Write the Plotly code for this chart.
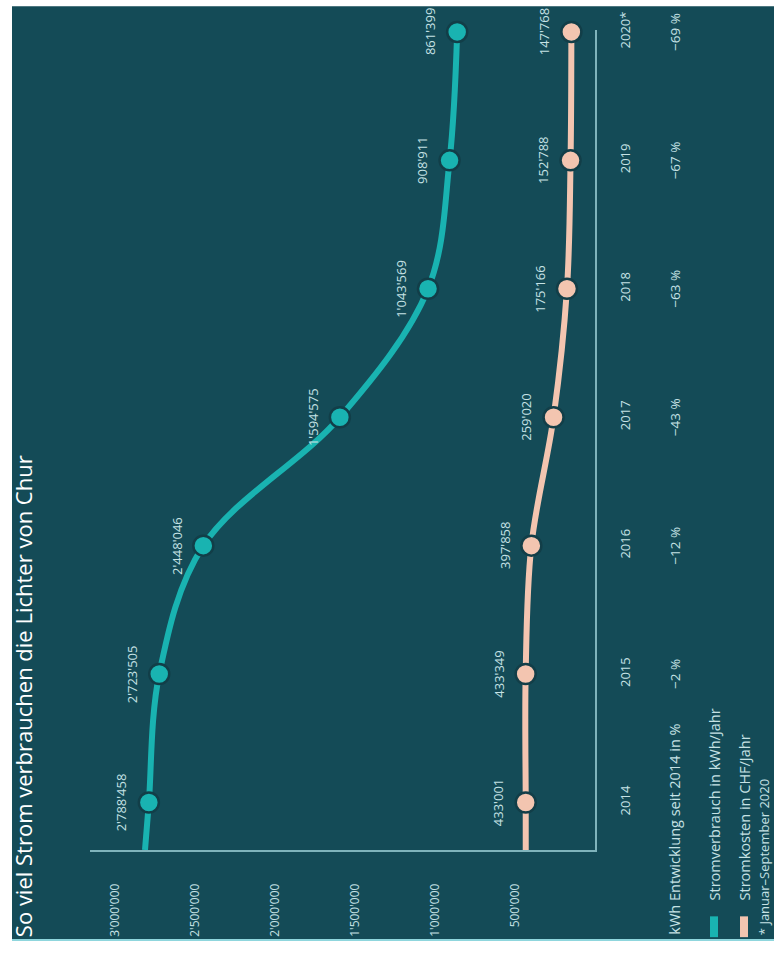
import plotly.graph_objects as go

# ---------------- data ----------------
years = [2014, 2015, 2016, 2017, 2018, 2019, 2020]
year_labels = ["2014", "2015", "2016", "2017", "2018", "2019", "2020*"]
consumption_kwh = [2788458, 2723505, 2448046, 1594575, 1043569, 908911, 861399]
cost_chf = [433001, 433349, 397858, 259020, 175166, 152788, 147768]
change_pct = [None, "−2 %", "−12 %", "−43 %", "−63 %", "−67 %", "−69 %"]
value_ticks = [500000, 1000000, 1500000, 2000000, 2500000, 3000000]

title_text = "So viel Strom verbrauchen die Lichter von Chur"
change_label = "kWh Entwicklung seit 2014 in %"
legend_labels = ["Stromverbrauch in kWh/Jahr", "Stromkosten in CHF/Jahr"]
footnote = "* Januar–September 2020"

# ---------------- style ----------------
W, H = 774, 958
BG = "#144b57"
TEAL = "#19b3b1"
SALMON = "#f3c5b0"
AXIS = "#7fb3bb"
TXT = "#c6e2e5"
FONT = "Open Sans"

# plot area in pixels
L, R, T, B = 90, 595, 22, 850
x_range = [3156250, 0]
y_range = [2013.63, 2020.015]


def xp(px):
    return (px - L) / (R - L)


def yp(py):
    return (B - py) / (B - T)


fig = go.Figure()

# stub continuation of lines down to the axis (derived from first two points)
def stub(vals):
    return vals[0] + (vals[0] - vals[1]) * (years[0] - y_range[0])

for vals, col in [(consumption_kwh, TEAL), (cost_chf, SALMON)]:
    fig.add_trace(go.Scatter(
        x=[stub(vals)] + vals, y=[y_range[0]] + years,
        mode="lines", line=dict(color=col, width=6, shape="spline", smoothing=1.0),
        hoverinfo="skip", showlegend=False, cliponaxis=False))
    fig.add_trace(go.Scatter(
        x=vals, y=years, mode="markers",
        marker=dict(size=20, color=col, line=dict(color="#123e48", width=2.5)),
        showlegend=False, cliponaxis=False))

annotations = []
# data labels
for vals in (consumption_kwh, cost_chf):
    for v, yv in zip(vals, years):
        annotations.append(dict(
            x=v, y=yv, xref="x", yref="y", text=f"{v:,}".replace(",", "'"),
            textangle=-90, showarrow=False, xshift=-27,
            font=dict(family=FONT, size=13, color=TXT),
            xanchor="center", yanchor="middle"))

# percentage row
for pct, yv in zip(change_pct, years):
    if pct:
        annotations.append(dict(
            x=xp(675), y=yv, xref="paper", yref="y", text=pct, textangle=-90,
            showarrow=False, font=dict(family=FONT, size=13.5, color=TXT),
            xanchor="center", yanchor="middle"))
annotations.append(dict(
    x=xp(675), y=yp(938), xref="paper", yref="paper", text=change_label,
    textangle=-90, showarrow=False, font=dict(family=FONT, size=14.5, color=TXT),
    xanchor="center", yanchor="bottom"))

# legend
shapes = []
for lab, col, cx in zip(legend_labels, [TEAL, SALMON], [714, 744]):
    shapes.append(dict(type="rect", xref="paper", yref="paper",
                       x0=xp(cx - 4), x1=xp(cx + 4), y0=yp(938), y1=yp(917),
                       fillcolor=col, line=dict(width=0)))
    annotations.append(dict(
        x=xp(cx), y=yp(903), xref="paper", yref="paper", text=lab, textangle=-90,
        showarrow=False, font=dict(family=FONT, size=14.5, color=TXT),
        xanchor="center", yanchor="bottom"))
annotations.append(dict(
    x=xp(764), y=yp(938), xref="paper", yref="paper", text=footnote, textangle=-90,
    showarrow=False, font=dict(family=FONT, size=13, color=TXT),
    xanchor="center", yanchor="bottom"))

# title
annotations.append(dict(
    x=xp(23), y=yp(940), xref="paper", yref="paper", text=title_text, textangle=-90,
    showarrow=False, font=dict(family=FONT, size=22, color="#ffffff"),
    xanchor="center", yanchor="bottom"))

# background panel and bottom rule
shapes.insert(0, dict(type="rect", xref="paper", yref="paper", layer="below",
                      x0=xp(12), x1=xp(W + 2), y0=yp(941), y1=yp(-2),
                      fillcolor=BG, line=dict(width=0)))
shapes.append(dict(type="line", xref="paper", yref="paper",
                   x0=xp(12), x1=xp(W + 2), y0=yp(941), y1=yp(941),
                   line=dict(color="#8fd6dd", width=2)))

fig.update_layout(
    width=W, height=H,
    margin=dict(l=L, r=W - R, t=T, b=H - B, pad=0),
    paper_bgcolor="white", plot_bgcolor="rgba(0,0,0,0)",
    separators=".'",
    showlegend=False,
    shapes=shapes, annotations=annotations,
    xaxis=dict(range=x_range, tickvals=value_ticks, tickformat=",",
               tickangle=-90, showgrid=False, zeroline=False,
               showline=True, linecolor=AXIS, linewidth=1.5,
               ticks="", ticklabelstandoff=27,
               tickfont=dict(family=FONT, size=12, color=TXT)),
    yaxis=dict(range=y_range, tickvals=years, ticktext=year_labels,
               side="right", tickangle=-90, showgrid=False, zeroline=False,
               showline=True, linecolor=AXIS, linewidth=1.5,
               ticks="", ticklabelstandoff=18,
               tickfont=dict(family=FONT, size=13, color=TXT)),
)

fig.write_html("out.html")
